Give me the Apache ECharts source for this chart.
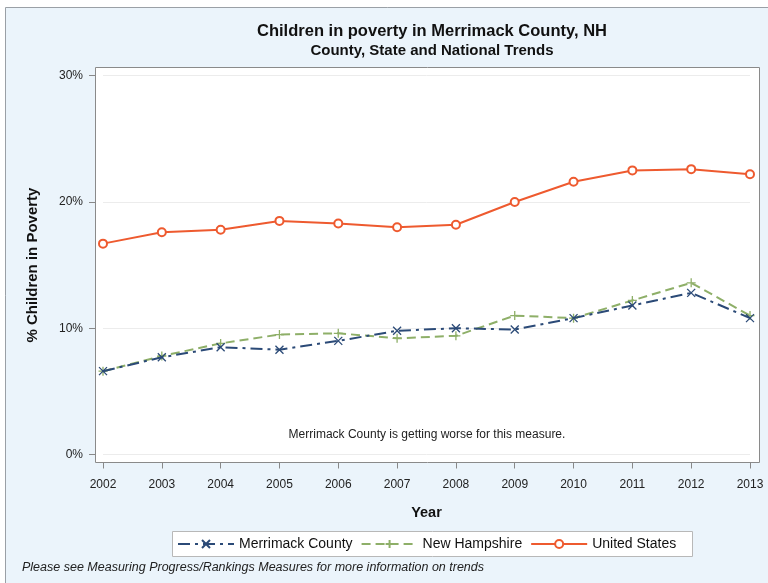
<!DOCTYPE html>
<html>
<head>
<meta charset="utf-8">
<script src="https://cdn.jsdelivr.net/npm/echarts@6/dist/echarts.min.js"></script>
<style>
html,body{margin:0;padding:0;background:#fff;}
#chart{width:768px;height:583px;}
</style>
</head>
<body>
<div id="chart"></div>
<script>
const years = [2002, 2003, 2004, 2005, 2006, 2007, 2008, 2009, 2010, 2011, 2012, 2013];
const merrimack = [6.6, 7.7, 8.5, 8.3, 9.0, 9.8, 10.0, 9.9, 10.8, 11.8, 12.8, 10.8];
const newHampshire = [6.6, 7.8, 8.8, 9.5, 9.6, 9.2, 9.4, 11.0, 10.8, 12.2, 13.6, 11.0];
const unitedStates = [16.7, 17.6, 17.8, 18.5, 18.3, 18.0, 18.2, 20.0, 21.6, 22.5, 22.6, 22.2];
const yTicks = [0, 10, 20, 30];

const FONT = 'Liberation Sans, Arial, sans-serif';
const pairs = arr => years.map((y, i) => [y, arr[i]]);

const chart = echarts.init(document.getElementById('chart'), null, {renderer: 'canvas'});
chart.setOption({
  backgroundColor: '#ffffff',
  animation: false,
  textStyle: {fontFamily: FONT},
  graphic: [
    {type: 'rect', z: -20, silent: true, shape: {x: 5.5, y: 7.5, width: 770, height: 590},
     style: {fill: '#EBF4FB', stroke: '#9aa0a6', lineWidth: 1}},
    {type: 'rect', z: -10, silent: true, shape: {x: 95.5, y: 67.5, width: 664, height: 395},
     style: {fill: '#ffffff', stroke: '#8a8a8a', lineWidth: 1}},
    {type: 'text', z: 10, silent: true,
     style: {x: 427, y: 435, text: 'Merrimack County is getting worse for this measure.', textAlign: 'center', textVerticalAlign: 'middle',
             fill: '#222', font: '12px ' + FONT}},
    {type: 'text', z: 10, silent: true,
     style: {x: 22, y: 568, text: 'Please see Measuring Progress/Rankings Measures for more information on trends', textVerticalAlign: 'middle',
             fill: '#222', font: 'italic 12.5px ' + FONT}},
    {type: 'rect', z: -5, silent: true, shape: {x: 172.5, y: 531.5, width: 520, height: 25},
     style: {fill: '#ffffff', stroke: '#b8b8b8', lineWidth: 1}}
  ],
  title: [
    {text: 'Children in poverty in Merrimack County, NH', left: 427, top: 18, textAlign: 'center',
     textStyle: {fontSize: 16.5, fontWeight: 'bold', color: '#111', fontFamily: FONT}},
    {text: 'County, State and National Trends', left: 427, top: 38, textAlign: 'center',
     textStyle: {fontSize: 15, fontWeight: 'bold', color: '#111', fontFamily: FONT}}
  ],
  legend: {
    left: 172, top: 532, itemWidth: 56, itemHeight: 10, itemGap: 8,
    textStyle: {fontSize: 14, color: '#111', fontFamily: FONT},
    data: ['Merrimack County', 'New Hampshire', 'United States']
  },
  grid: [
    {left: 103, right: 18, top: 75.7, bottom: 583 - 454.5, containLabel: false},
    {left: 103, right: 18, top: 75.7, bottom: 583 - 462.5, containLabel: false}
  ],
  xAxis: [
    {
      type: 'value', gridIndex: 0, min: 2002, max: 2013, interval: 1,
      show: false, splitLine: {show: false}
    },
    {
      type: 'value', gridIndex: 1, min: 2002, max: 2013, interval: 1,
      name: 'Year', nameLocation: 'middle', nameGap: 43,
      nameTextStyle: {fontSize: 14.5, fontWeight: 'bold', color: '#111', fontFamily: FONT},
      axisLine: {show: false},
      axisTick: {show: true, length: 6, lineStyle: {color: '#888'}},
      axisLabel: {fontSize: 12, color: '#222', margin: 16, formatter: v => String(v), fontFamily: FONT},
      splitLine: {show: false}
    }
  ],
  yAxis: [
    {
      type: 'value', gridIndex: 0, min: 0, max: 30, interval: 10, offset: 8,
      name: '% Children in Poverty', nameLocation: 'middle', nameGap: 55, nameRotate: 90,
      nameTextStyle: {fontSize: 15, fontWeight: 'bold', color: '#111', fontFamily: FONT},
      axisLine: {show: false},
      axisTick: {show: true, length: 6, lineStyle: {color: '#888'}},
      axisLabel: {fontSize: 12, color: '#222', margin: 12, formatter: v => yTicks.includes(v) ? v + '%' : '', fontFamily: FONT},
      splitLine: {show: true, lineStyle: {color: '#ececec', width: 1}}
    },
    {
      type: 'value', gridIndex: 1, min: 0, max: 30, interval: 10, show: false, splitLine: {show: false}
    }
  ],
  series: [
    {
      name: 'Merrimack County', type: 'line', data: pairs(merrimack), z: 5, xAxisIndex: 0, yAxisIndex: 0,
      symbol: 'path://M0,0L10,10M10,0L0,10', symbolSize: 8,
      itemStyle: {color: '#2B4A77', borderColor: '#2B4A77', borderWidth: 1.3},
      lineStyle: {color: '#2B4A77', width: 2, type: [12, 5, 3, 5]}
    },
    {
      name: 'New Hampshire', type: 'line', data: pairs(newHampshire), z: 4, xAxisIndex: 0, yAxisIndex: 0,
      symbol: 'path://M5,0L5,10M0,5L10,5', symbolSize: 9,
      itemStyle: {color: '#8EAF68', borderColor: '#8EAF68', borderWidth: 1.3},
      lineStyle: {color: '#8EAF68', width: 2, type: [9, 5]}
    },
    {
      name: 'United States', type: 'line', data: pairs(unitedStates), z: 3, xAxisIndex: 0, yAxisIndex: 0,
      symbol: 'emptyCircle', symbolSize: 8,
      itemStyle: {color: '#EE5A2F', borderColor: '#EE5A2F', borderWidth: 1},
      lineStyle: {color: '#EE5A2F', width: 2}
    }
  ]
});
</script>
</body>
</html>
